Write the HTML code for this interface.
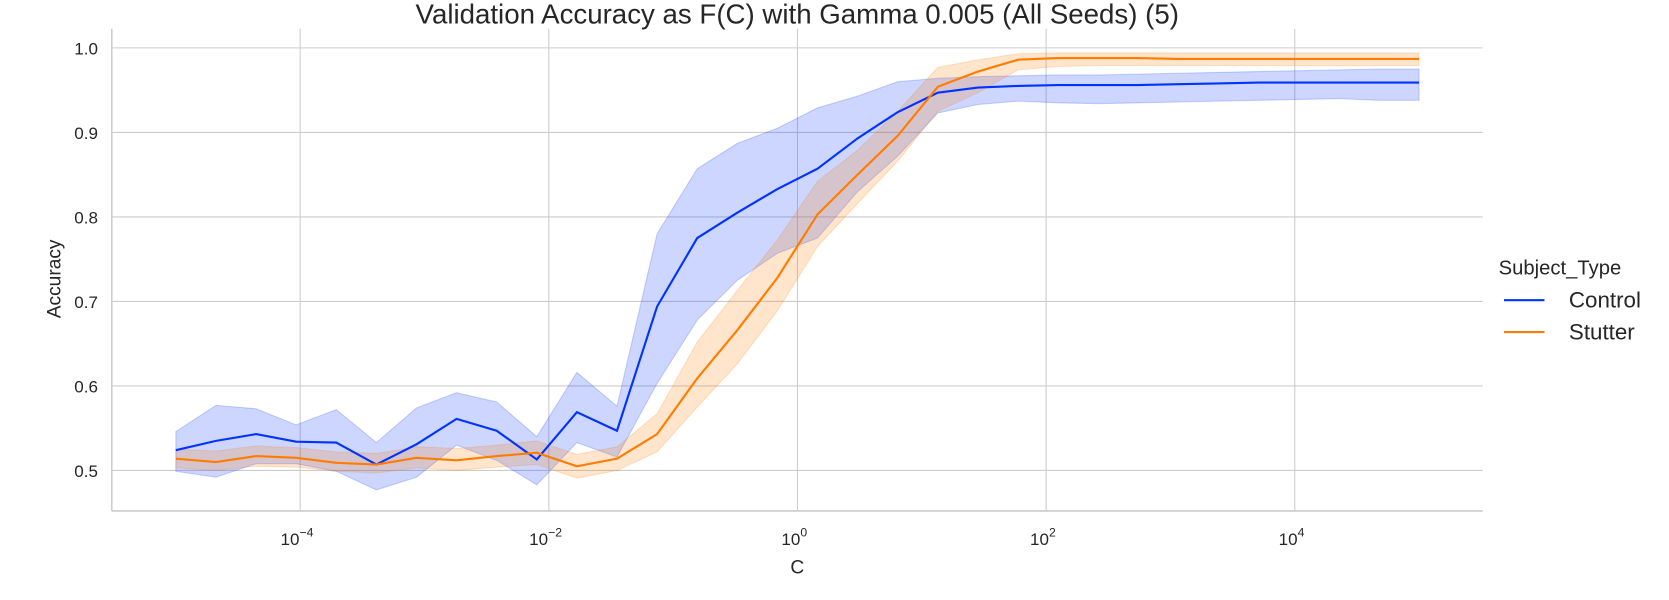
<!DOCTYPE html>
<html><head><meta charset="utf-8">
<style>
html,body{margin:0;padding:0;background:#fff;}
svg{display:block;font-family:"Liberation Sans",Arial,sans-serif;}
</style></head>
<body>
<svg id="chart" width="1669" height="600" viewBox="0 0 1568 563.7"></svg>
<script>
const logC = Array.from({length:32},(_, i)=> -5 + i*10/31);
const controlMean = [0.524,0.535,0.543,0.534,0.533,0.507,0.531,0.561,0.547,0.513,0.569,0.547,0.694,0.775,0.805,0.833,0.857,0.893,0.924,0.947,0.953,0.955,0.956,0.956,0.956,0.957,0.958,0.959,0.959,0.959,0.959,0.959];
const controlUpper = [0.546,0.577,0.573,0.554,0.572,0.533,0.574,0.592,0.581,0.540,0.616,0.576,0.780,0.857,0.887,0.905,0.929,0.943,0.960,0.964,0.966,0.967,0.968,0.968,0.969,0.970,0.971,0.972,0.973,0.974,0.975,0.975];
const controlLower = [0.499,0.492,0.508,0.508,0.499,0.477,0.492,0.530,0.512,0.483,0.533,0.516,0.603,0.678,0.725,0.757,0.775,0.830,0.872,0.923,0.933,0.937,0.935,0.934,0.935,0.936,0.937,0.938,0.939,0.940,0.938,0.938];
const stutterMean = [0.514,0.510,0.517,0.515,0.509,0.507,0.515,0.512,0.517,0.521,0.505,0.514,0.543,0.609,0.666,0.728,0.803,0.850,0.896,0.954,0.972,0.986,0.988,0.988,0.988,0.987,0.987,0.987,0.987,0.987,0.987,0.987];
const stutterUpper = [0.525,0.523,0.529,0.527,0.522,0.520,0.528,0.526,0.530,0.535,0.519,0.528,0.567,0.652,0.713,0.773,0.842,0.879,0.925,0.977,0.986,0.993,0.994,0.994,0.994,0.994,0.994,0.994,0.994,0.994,0.994,0.994];
const stutterLower = [0.503,0.500,0.505,0.504,0.499,0.497,0.503,0.500,0.504,0.507,0.491,0.500,0.522,0.575,0.626,0.689,0.765,0.816,0.866,0.925,0.947,0.974,0.978,0.979,0.979,0.979,0.979,0.979,0.979,0.979,0.979,0.979];
const yTicks = [0.5,0.6,0.7,0.8,0.9,1.0];
const yTickLabels = ["0.5","0.6","0.7","0.8","0.9","1.0"];
const xTickExps = [-4,-2,0,2,4];

const NS="http://www.w3.org/2000/svg";
const svg=document.getElementById('chart');
const L=105,R=1393,T=27,B=480;
const xs=v=>282+(v+4)*116.8;
const ys=v=>442-(v-0.5)*794;
function mk(tag,attrs,parent){const e=document.createElementNS(NS,tag);for(const k in attrs)e.setAttribute(k,attrs[k]);(parent||svg).appendChild(e);return e;}

xTickExps.forEach(ex=>{
  const g=mk('line',{x1:xs(ex),x2:xs(ex),y1:T,y2:B,stroke:'#cccccc','stroke-width':1});
  
  
  const t=mk('text',{x:xs(ex)-3,y:512,'font-size':16,fill:'#262626','text-anchor':'middle'});
  
  
  t.textContent='10';
  const s=mk('tspan',{dy:-8,'font-size':11.5},t);
  s.textContent= ex<0 ? '\u2212'+Math.abs(ex) : String(ex);
});
yTicks.forEach((v,i)=>{
  const g=mk('line',{x1:L,x2:R,y1:ys(v),y2:ys(v),stroke:'#cccccc','stroke-width':1});
  
  
  const t=mk('text',{x:92,y:ys(v)+6,'font-size':16,fill:'#262626','text-anchor':'end'});
  
  
  t.textContent=yTickLabels[i];
});

function band(up,lo,color,name){
  let d='M'+logC.map((c,i)=>xs(c)+','+ys(up[i])).join(' L');
  d+=' L'+logC.map((c,i)=>[xs(c),ys(lo[i])]).reverse().map(p=>p.join(',')).join(' L')+' Z';
  const p=mk('path',{d:d,fill:color,'fill-opacity':0.2,stroke:color,'stroke-opacity':0.2,'stroke-width':1});
  
  
}
function line(m,color,name){
  const p=mk('path',{d:'M'+logC.map((c,i)=>xs(c)+','+ys(m[i])).join(' L'),fill:'none',stroke:color,'stroke-width':2});
  
  
}
band(controlUpper,controlLower,'#0033ff','control-ci-band');
band(stutterUpper,stutterLower,'#ff7c00','stutter-ci-band');
line(controlMean,'#0033ff','control-line');
line(stutterMean,'#ff7c00','stutter-line');

let sp=mk('line',{x1:L,x2:L,y1:T,y2:B,stroke:'#cccccc','stroke-width':1.5});


sp=mk('line',{x1:L,x2:R,y1:B,y2:B,stroke:'#cccccc','stroke-width':1.5});



let t=mk('text',{x:749,y:22,'font-size':26,fill:'#262626','text-anchor':'middle'});


t.textContent='Validation Accuracy as F(C) with Gamma 0.005 (All Seeds) (5)';
t=mk('text',{x:749,y:539,'font-size':18,fill:'#262626','text-anchor':'middle'});


t.textContent='C';
t=mk('text',{x:0,y:0,'font-size':18,fill:'#262626','text-anchor':'middle',transform:'translate(57,262) rotate(-90)'});


t.textContent='Accuracy';

t=mk('text',{x:1408,y:258,'font-size':19,fill:'#262626'});


t.textContent='Subject_Type';
[['Control','#0033ff',282],['Stutter','#ff7c00',312]].forEach(([n,c,y])=>{
  const g=mk('g',{});
  
  
  mk('line',{x1:1413,x2:1451,y1:y,y2:y,stroke:c,'stroke-width':2},g);
  const tx=mk('text',{x:1474,y:y+7,'font-size':21,fill:'#262626'},g);
  tx.textContent=n;
});
</script>
</body></html>
